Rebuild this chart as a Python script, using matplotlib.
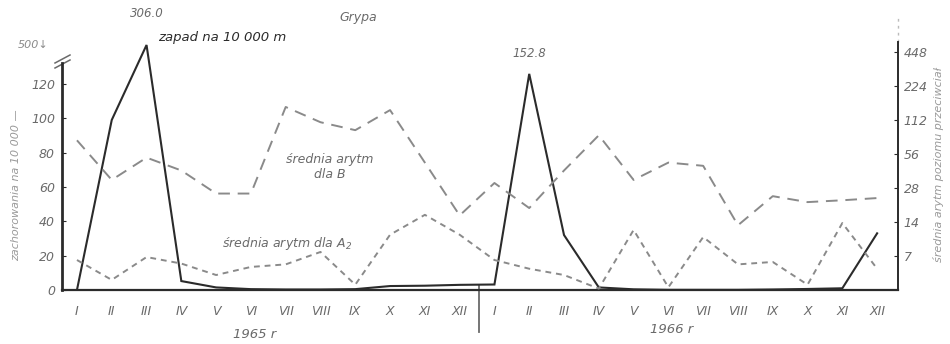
#!/usr/bin/env python3
"""
Grypa 1965-1966: zapadalnosc i srednie arytm. poziomu przeciwcial.
"""
import numpy as np
import matplotlib
matplotlib.use("Agg")
import matplotlib.pyplot as plt
from matplotlib.ticker import NullLocator
from matplotlib.transforms import blended_transform_factory

months = ["I", "II", "III", "IV", "V", "VI", "VII", "VIII", "IX", "X", "XI", "XII"]
month_labels = months + months
years = ["1965 r", "1966 r"]

# zapadalnosc na 10 000 (lewa os, przerwana powyzej 120)
zapad = [0, 99, 306.0, 5.2, 1.5, 0.5, 0.3, 0.3, 0.5, 2.3, 2.5, 3.0,
         3.2, 152.8, 32, 1.5, 0.4, 0.1, 0.1, 0.1, 0.3, 0.6, 1.0, 33]

# srednia arytm. dla B (prawa os, log2)
sr_b = [74, 33, 52, 40, 25, 25, 146, 107, 91, 137, 47, 16,
        31, 18.6, 40, 82, 33, 47, 44, 13.1, 23.7, 21, 21.8, 22.8]

# srednia arytm. dla A2 (prawa os, log2)
sr_a2 = [6.45, 4.3, 6.85, 6.0, 4.75, 5.6, 5.9, 7.6, 3.9, 10.8, 16.2, 10.8,
         6.45, 5.4, 4.75, 3.6, 11.9, 3.7, 10.3, 5.9, 6.2, 3.9, 13.7, 5.4]

left_ticks = [0, 20, 40, 60, 80, 100, 120]
right_ticks = [7, 14, 28, 56, 112, 224, 448]

peak_labels = {2: "306.0", 13: "152.8"}

BRK = 120.0
C = 24.2


def fwd(v):
    v = np.asarray(v, dtype=float)
    return np.where(v <= BRK, v, BRK + C * np.log(np.maximum(v, BRK) / BRK))


def inv(u):
    u = np.asarray(u, dtype=float)
    return np.where(u <= BRK, u, BRK * np.exp((np.minimum(u, 400.0) - BRK) / C))


ink = "#2b2b2b"
grey = "#6a6a6a"
light = "#8a8a8a"

plt.rcParams["font.family"] = ["DejaVu Sans"]
plt.rcParams["font.style"] = "italic"

fig = plt.figure(figsize=(9.5, 3.44), dpi=100)
ax = fig.add_axes([62 / 950, 54 / 344, 836 / 950, 248 / 344])
ax2 = ax.twinx()

x = np.arange(len(zapad))

ax.set_yscale("function", functions=(fwd, inv))
ax.set_ylim(0, 329)
ax.set_xlim(-0.43, 23.6)

ax.plot(x, zapad, color=ink, lw=1.5, solid_joinstyle="miter", zorder=5)
for i, lab in peak_labels.items():
    ax.annotate(lab, (x[i], zapad[i]), xytext=(0, 10 if i == 13 else 18),
                textcoords="offset points", ha="center", va="bottom",
                fontsize=8.5, color=grey, annotation_clip=False)

ax2.set_yscale("log", base=2)
ax2.set_ylim(3.5, 549)
ax2.plot(x, sr_b, color=light, lw=1.4, dashes=(6, 4))
ax2.plot(x, sr_a2, color=light, lw=1.4, dashes=(3, 2.5))

# osie
ax.set_yticks(left_ticks)
ax.set_yticklabels([str(t) for t in left_ticks])
ax.yaxis.set_minor_locator(NullLocator())
ax.set_xticks(x)
ax.set_xticklabels(month_labels)
ax.tick_params(axis="x", length=0, pad=11, labelsize=9, labelcolor=grey)
ax.tick_params(axis="y", length=3, direction="in", pad=5, labelsize=9,
               labelcolor=grey, color=ink)

ax2.set_yticks(right_ticks)
ax2.set_yticklabels([str(t) for t in right_ticks])
ax2.yaxis.set_minor_locator(NullLocator())
ax2.tick_params(axis="y", length=3, direction="in", pad=4, labelsize=9,
                labelcolor=grey, color=ink)

for a in (ax, ax2):
    a.spines["top"].set_visible(False)
ax2.spines["left"].set_visible(False)
ax2.spines["bottom"].set_visible(False)
ax.spines["right"].set_visible(False)
ax.spines["left"].set_linewidth(2.0)
ax.spines["left"].set_color(ink)
ax.spines["left"].set_bounds(0, 200)
ax.spines["bottom"].set_linewidth(1.6)
ax.spines["bottom"].set_color(ink)
ax2.spines["right"].set_linewidth(1.4)
ax2.spines["right"].set_color(ink)

# przerwa osi i dopiski
ax.plot([-7 / 836, 8 / 836], [(290 - 63) / 248, (290 - 55) / 248],
        transform=ax.transAxes, color=grey, lw=1.1, clip_on=False)
ax.plot([-7 / 836, 8 / 836], [(290 - 68) / 248, (290 - 60) / 248],
        transform=ax.transAxes, color=grey, lw=1.1, clip_on=False)
ax.plot([1, 1], [1.0, 1.11], transform=ax.transAxes, color="#bbbbbb",
        lw=1.0, ls=(0, (2, 3)), clip_on=False)

tr = blended_transform_factory(ax.transData, ax.transAxes)
ax.plot([11.55, 11.55], [0.02, -0.17], transform=tr, color=grey, lw=1.3,
        clip_on=False)
ax.text(5.1, -0.18, years[0], transform=tr, ha="center", va="center",
        fontsize=9.5, color=grey)
ax.text(17.1, -0.16, years[1], transform=tr, ha="center", va="center",
        fontsize=9.5, color=grey)

fig.text(0.035, 1 - 45 / 344, "500↓", ha="center", va="center",
         fontsize=8, color=light)
fig.text(358 / 950, 1 - 18 / 344, "Grypa", ha="center", va="center",
         fontsize=9, color=grey)
fig.text(158 / 950, 1 - 37 / 344, "zapad na 10 000 m", ha="left",
         va="center", fontsize=9.5, color=ink)
fig.text(330 / 950, 1 - 167 / 344, "średnia arytm\ndla B", ha="center",
         va="center", fontsize=9, color=grey, linespacing=1.1)
fig.text(287 / 950, 1 - 244 / 344, "średnia arytm dla A$_2$", ha="center",
         va="center", fontsize=9, color=grey)
fig.text(16 / 950, 1 - 185 / 344, "zachorowania na 10 000 —", rotation=90,
         ha="center", va="center", fontsize=8, color="#9a9a9a")
fig.text(938 / 950, 1 - 165 / 344, "średnia arytm poziomu przeciwciał",
         rotation=90, ha="center", va="center", fontsize=8, color="#9a9a9a")

fig.savefig("out.png", dpi=100, facecolor="white")
